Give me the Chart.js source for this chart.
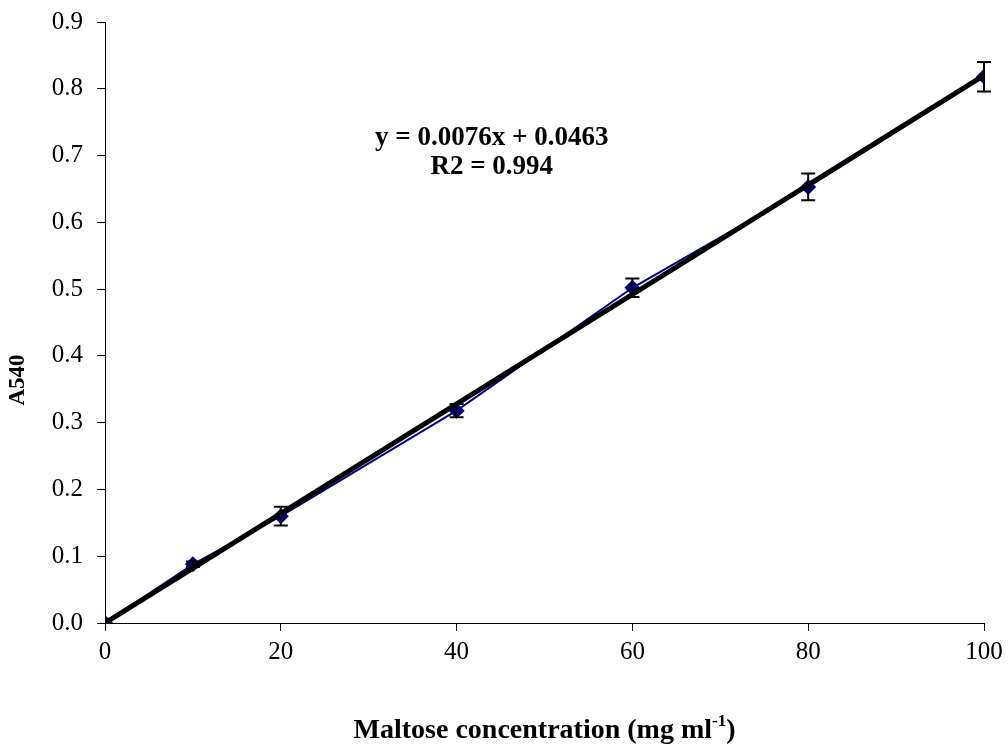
<!DOCTYPE html>
<html>
<head>
<meta charset="utf-8">
<script src="https://cdn.jsdelivr.net/npm/chart.js@4/dist/chart.umd.min.js"></script>
<style>
  html, body { margin: 0; padding: 0; background: #fff; }
  #wrap { width: 1008px; height: 756px; }
</style>
</head>
<body>
<div id="wrap"><canvas id="myChart" width="1008" height="756"></canvas></div>
<script>
// maltose standard curve
const conc = [0, 10, 20, 40, 60, 80, 100];
const absorb = [0, 0.088, 0.16, 0.318, 0.502, 0.653, 0.818];
const errs = [0, 0.004, 0.014, 0.01, 0.014, 0.02, 0.022];
// fitted line as drawn (through origin)
const fitX = [0, 100];
const fitY = [0, 0.82];
const eqLines = ['y = 0.0076x + 0.0463', 'R2 = 0.994'];

const serif = '"Liberation Serif", "Times New Roman", serif';

const errorBars = {
  id: 'errorBars',
  afterDatasetsDraw(chart) {
    const ctx = chart.ctx;
    const xs = chart.scales.x, ys = chart.scales.y;
    ctx.save();
    ctx.strokeStyle = '#000';
    ctx.lineWidth = 2;
    for (let i = 0; i < conc.length; i++) {
      if (!errs[i]) continue;
      const px = xs.getPixelForValue(conc[i]);
      const top = ys.getPixelForValue(absorb[i] + errs[i]);
      const bot = ys.getPixelForValue(absorb[i] - errs[i]);
      ctx.beginPath();
      ctx.moveTo(px, top); ctx.lineTo(px, bot);
      ctx.moveTo(px - 7, top); ctx.lineTo(px + 7, top);
      ctx.moveTo(px - 7, bot); ctx.lineTo(px + 7, bot);
      ctx.stroke();
    }
    ctx.restore();
  }
};

const labels = {
  id: 'labels',
  afterDraw(chart) {
    const ctx = chart.ctx;
    const a = chart.chartArea;
    ctx.save();
    ctx.fillStyle = '#000';
    // equation
    ctx.font = 'bold 27px ' + serif;
    ctx.textAlign = 'center';
    ctx.textBaseline = 'middle';
    const ex = chart.scales.x.getPixelForValue(44);
    ctx.fillText(eqLines[0], ex, 138);
    ctx.fillText(eqLines[1], ex, 167);

    // y title
    ctx.font = 'bold 23px ' + serif;
    ctx.translate(18, 380);
    ctx.rotate(-Math.PI / 2);
    ctx.fillText('A540', 0, 0);
    ctx.setTransform(1, 0, 0, 1, 0, 0);

    // x title with superscript
    const main = 'Maltose concentration (mg ml';
    const sup = '-1';
    const tail = ')';
    ctx.textAlign = 'left';
    ctx.textBaseline = 'alphabetic';
    const fBig = 'bold 28px ' + serif, fSmall = 'bold 17px ' + serif;
    ctx.font = fBig;
    const w1 = ctx.measureText(main).width, w3 = ctx.measureText(tail).width;
    ctx.font = fSmall;
    const w2 = ctx.measureText(sup).width;
    const cx = (a.left + a.right) / 2;
    let x = cx - (w1 + w2 + w3) / 2;
    const base = 738;
    ctx.font = fBig; ctx.fillText(main, x, base); x += w1;
    ctx.font = fSmall; ctx.fillText(sup, x, base - 12); x += w2;
    ctx.font = fBig; ctx.fillText(tail, x, base);
    ctx.restore();
  }
};

new Chart(document.getElementById('myChart'), {
  type: 'scatter',
  data: {
    datasets: [
      {
        data: conc.map((c, i) => ({ x: c, y: absorb[i] })),
        showLine: true,
        borderColor: '#000080',
        backgroundColor: '#000080',
        borderWidth: 2,
        pointStyle: 'rectRot',
        pointRadius: 8,
        pointBorderWidth: 0,
        order: 2
      },
      {
        data: fitX.map((c, i) => ({ x: c, y: fitY[i] })),
        showLine: true,
        borderColor: '#000',
        borderWidth: 5,
        pointRadius: 0,
        order: 1
      }
    ]
  },
  options: {
    responsive: false,
    animation: false,
    layout: { padding: { top: 22, right: 24, left: 0, bottom: 0 } },
    plugins: { legend: { display: false }, tooltip: { enabled: false } },
    scales: {
      x: {
        type: 'linear', min: 0, max: 100,
        afterFit(s) { s.height = 133; s.paddingRight = 0; },
        ticks: { stepSize: 20, color: '#000', font: { family: serif, size: 25 }, padding: 6 },
        grid: { drawOnChartArea: false, drawTicks: true, tickLength: 8, color: '#000' },
        border: { color: '#000', width: 1 }
      },
      y: {
        min: 0, max: 0.9,
        afterFit(s) { s.width = 105; s.paddingTop = 0; },
        ticks: { stepSize: 0.1, color: '#000', font: { family: serif, size: 25 }, padding: 14,
          callback: v => v.toFixed(1) },
        grid: { drawOnChartArea: false, drawTicks: true, tickLength: 8, color: '#000' },
        border: { color: '#000', width: 1 }
      }
    }
  },
  plugins: [errorBars, labels]
});
</script>
</body>
</html>
